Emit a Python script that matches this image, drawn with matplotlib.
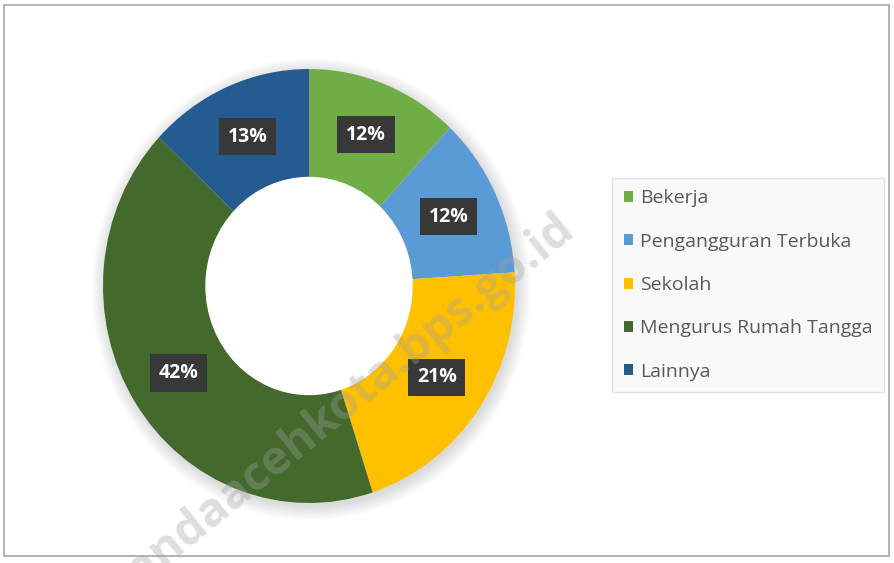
import numpy as np
import matplotlib.pyplot as plt
from matplotlib.patches import Rectangle, Circle

# data
categories = ["Bekerja", "Pengangguran Terbuka", "Sekolah",
              "Mengurus Rumah Tangga", "Lainnya"]
values = [12, 12, 21, 42, 13]
colors = ["#70AD47", "#5B9BD5", "#FFC000", "#436A2C", "#245C91"]

W, H = 895, 563
fig = plt.figure(figsize=(W / 100, H / 100), dpi=100)
fig.patch.set_facecolor("white")

# outer frame
fig.patches.append(Rectangle((4 / W, 1 - 556 / H), 885 / W, 551 / H,
                             transform=fig.transFigure, fill=False,
                             edgecolor="#a6a6a6", linewidth=1.2))

# donut axes: center (309, 286) px, radii 206 x 217 px (slightly stretched)
cx, cy, rx, ry, lim = 309, 286, 206, 217, 1.1
ax = fig.add_axes([(cx - lim * rx) / W, 1 - (cy + lim * ry) / H,
                   2 * lim * rx / W, 2 * lim * ry / H])

# soft shadow
for i in range(12):
    ax.add_patch(Circle((0.01, -0.015), 1.0 + i * 0.006, color="black",
                        alpha=0.012, zorder=0, linewidth=0))

wedges, _ = ax.pie(values, colors=colors, startangle=90, counterclock=False,
                   radius=1.0, wedgeprops=dict(width=0.5, edgecolor="none"))
ax.add_patch(Circle((0, 0), 0.5, color="white", zorder=3))
ax.set_aspect("auto")
ax.set_xlim(-lim, lim)
ax.set_ylim(-lim, lim)
ax.axis("off")

start = 90.0
total = sum(values)
for v in values:
    mid = start - v / total * 180.0
    start -= v / total * 360.0
    x = 0.75 * np.cos(np.radians(mid))
    y = 0.75 * np.sin(np.radians(mid))
    ax.text(x, y, f"{v}%", ha="center", va="center", color="white",
            fontsize=14, fontweight="bold", family="Open Sans", zorder=5,
            bbox=dict(boxstyle="square,pad=0.45", facecolor="#383838",
                      edgecolor="none"))

leg = ax.legend(wedges, categories, loc="center left",
                bbox_to_anchor=(612 / W, 1 - 285 / H),
                bbox_transform=fig.transFigure,
                frameon=True, labelspacing=1.3,
                handlelength=0.5, handleheight=0.5, handletextpad=0.35,
                borderpad=0.6, borderaxespad=0, fancybox=False,
                prop={"family": "Open Sans", "size": 14})
leg.get_frame().set_facecolor("#f8f8f8")
leg.get_frame().set_edgecolor("#dcdcdc")
leg.get_frame().set_linewidth(1.0)
for t in leg.get_texts():
    t.set_color("#595959")

# watermark (partly off the bottom edge, as in the source image)
fig.text(339 / W, 1 - 408 / H, "bandaacehkota.bps.go.id", rotation=39,
         ha="center", va="center", fontsize=34, fontweight="bold",
         family="Open Sans", color="#a0a0a0", alpha=0.35, zorder=10)

fig.savefig("out.png", dpi=100, facecolor="white")
